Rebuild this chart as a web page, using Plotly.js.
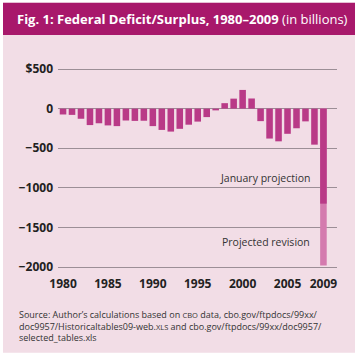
<!DOCTYPE html>
<html>
<head>
<meta charset="utf-8">
<script src="https://cdn.plot.ly/plotly-3.0.1.min.js"></script>
<style>html,body{margin:0;padding:0;background:#fff;}</style>
</head>
<body>
<div id="chart" style="width:358px;height:355px;"></div>
<script>
const years = [1980,1981,1982,1983,1984,1985,1986,1987,1988,1989,1990,1991,1992,1993,1994,1995,1996,1997,1998,1999,2000,2001,2002,2003,2004,2005,2006,2007,2008,2009];
const deficit = [-74,-79,-128,-208,-185,-212,-221,-150,-155,-153,-221,-269,-290,-255,-203,-164,-107,-22,69,126,236,128,-158,-378,-413,-318,-248,-161,-455,-1200];
const revisionYears = [2009];
const revisionValues = [-1980];
const yTickVals = [500,0,-500,-1000,-1500,-2000];
const yTickText = ['$500','0','\u2212500','\u22121000','\u22121500','\u22122000'];
const xTickVals = [1980,1985,1990,1995,2000,2005,2009];
const xTickText = ['1980','1985','1990','1995','2000','2005','2009'];

const L=58, R=337, T=60, B=275;
const W=R-L, H=B-T;
const px = x => (x-L)/W;
const py = y => (B-y)/H;

const FONT = 'Open Sans, Lato, sans-serif';

const traces = [
  {type:'bar', x:revisionYears, y:revisionValues, marker:{color:'#d47aae'}, hoverinfo:'skip'},
  {type:'bar', x:years, y:deficit, marker:{color:'#b93a87'}, hoverinfo:'skip'}
];

const layout = {
  width:358, height:355,
  margin:{l:L, r:358-R, t:T, b:355-B, pad:0},
  paper_bgcolor:'#ffffff',
  plot_bgcolor:'rgba(0,0,0,0)',
  barmode:'overlay',
  bargap:0.27,
  showlegend:false,
  font:{family:FONT, color:'#222'},
  title:{
    text:'<b>Fig. 1: Federal Deficit/Surplus, 1980\u20132009</b> (in billions)',
    font:{family:FONT, size:13, color:'#ffffff'},
    xref:'container', yref:'container',
    x:17/358, y:1-19/355, xanchor:'left', yanchor:'middle'
  },
  xaxis:{
    range:[1979.44,2010.51],
    tickvals:xTickVals, ticktext:xTickText,
    showgrid:false, zeroline:false, showline:false,
    ticks:'', tickfont:{family:FONT, size:12, color:'#222', weight:'bold'},
    fixedrange:true
  },
  yaxis:{
    range:[-2101,614],
    tickvals:yTickVals, ticktext:yTickText,
    showgrid:true, gridcolor:'#9c8e96', gridwidth:1,
    zeroline:false, showline:false,
    ticks:'', ticklabelstandoff:4,
    tickfont:{family:FONT, size:12, color:'#222', weight:'bold'},
    fixedrange:true
  },
  shapes:[
    {type:'rect', xref:'paper', yref:'paper', x0:px(3), x1:px(355), y0:py(352.7), y1:py(2.7),
     fillcolor:'#f2dde6', line:{width:0}, layer:'below'},
    {type:'rect', xref:'paper', yref:'paper', x0:px(3), x1:px(355), y0:py(35), y1:py(2.7),
     fillcolor:'#a8186b', line:{width:0}, layer:'below'}
  ],
  annotations:[
    {text:'January projection', xref:'x', yref:'y', x:2007.75, y:-876, xanchor:'right', yanchor:'middle',
     showarrow:false, font:{family:FONT, size:10.5, color:'#333'}},
    {text:'Projected revision', xref:'x', yref:'y', x:2007.75, y:-1680, xanchor:'right', yanchor:'middle',
     showarrow:false, font:{family:FONT, size:10.5, color:'#333'}},
    {text:'Source: Author\u2019s calculations based on <span style="font-size:7.5px">CBO</span> data, cbo.gov/ftpdocs/99xx/<br>doc9957/Historicaltables09-web.<span style="font-size:7.5px">XLS</span> and cbo.gov/ftpdocs/99xx/doc9957/<br>selected_tables.xls',
     xref:'paper', yref:'paper', x:px(17), y:py(326), xanchor:'left', yanchor:'middle', align:'left',
     showarrow:false, font:{family:FONT, size:9, color:'#333'}}
  ]
};

Plotly.newPlot('chart', traces, layout, {displayModeBar:false, staticPlot:true});
</script>
</body>
</html>
